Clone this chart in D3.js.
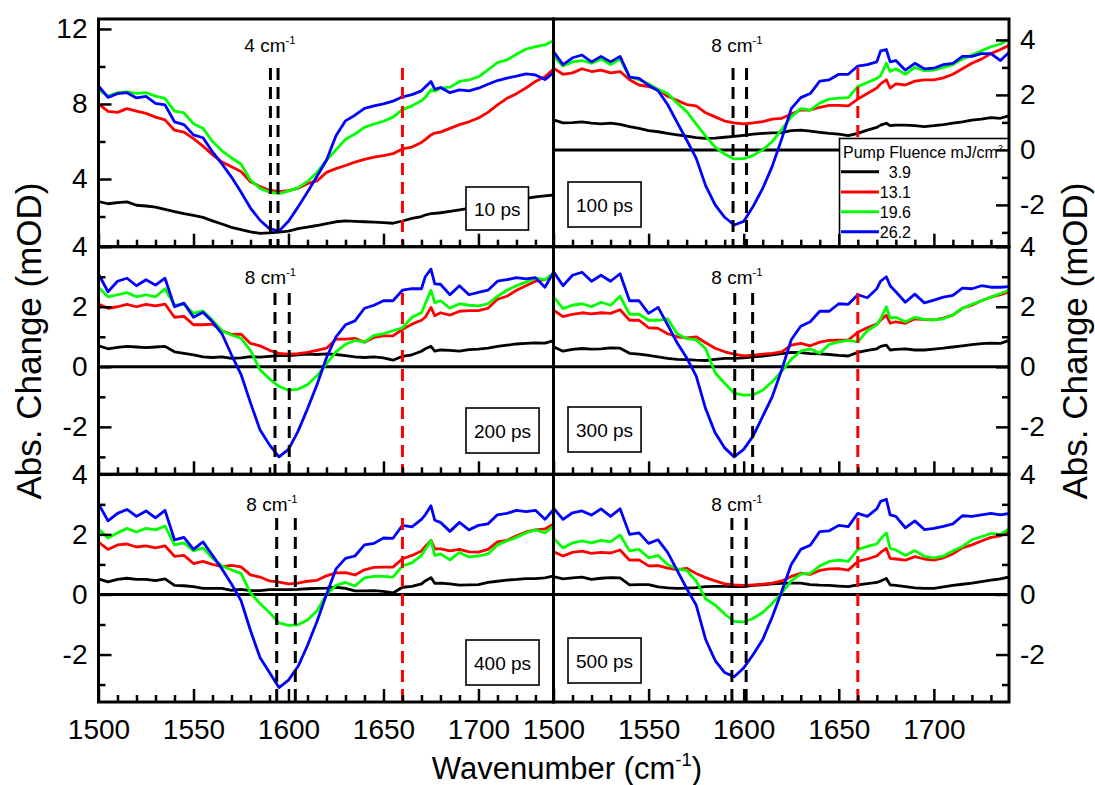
<!DOCTYPE html>
<html>
<head>
<meta charset="utf-8">
<script src="https://cdn.jsdelivr.net/npm/d3@7"></script>
<style>
  body { margin: 0; background: #fff; }
  svg { display: block; }
  text { font-family: "Liberation Sans", Arial, sans-serif; }
</style>
</head>
<body>
<svg id="chart" width="1095" height="785"></svg>
<script>
// ---- spectral axis (cm^-1) shared by every trace ----
const wavenumber = [1500,1505,1510,1515,1520,1525,1530,1535,1540,1545,1550,1555,1560,1565,1570,1575,1580,1585,1590,1595,
  1600,1605,1610,1615,1620,1625,1630,1635,1640,1645,1650,1655,1660,1665,1670,1672,1675,1677,1680,1685,1690,1695,
  1700,1705,1710,1715,1720,1725,1730,1735,1740];

const fluenceLabels = ["3.9", "13.1", "19.6", "26.2"];
const seriesColors = ["#000000", "#ff0000", "#00ff00", "#0000ff"];
const delayLabels = ["10 ps", "100 ps", "200 ps", "300 ps", "400 ps", "500 ps"];
const splitLabels = ["4", "8", "8", "8", "8", "8"];
const splitLines = [[1590.5, 1594.5], [1594.4, 1601.5], [1592.9, 1600.4], [1595.3, 1604.7], [1593.8, 1603.6], [1593.8, 1601.3]];
const markerLine = 1660;
const xMajorTicks = [1500, 1550, 1600, 1650, 1700];
const xMinorTicks = [1510,1520,1530,1540,1560,1570,1580,1590,1610,1620,1630,1640,1660,1670,1680,1690,1710,1720,1730];

// ---- 10 ps ----
const ps10_f39  = [2.8,2.68,2.74,2.78,2.6,2.56,2.5,2.38,2.26,2.15,2.06,1.95,1.77,1.6,1.42,1.3,1.18,1.1,1.13,1.17,
  1.22,1.35,1.44,1.52,1.62,1.72,1.77,1.74,1.72,1.7,1.67,1.64,1.76,1.9,2.0,2.08,2.15,2.17,2.2,2.27,2.35,2.43,
  2.55,2.65,2.72,2.8,2.88,2.97,3.05,3.1,3.15];
const ps10_f131 = [8.0,7.6,7.55,7.75,7.62,7.5,7.3,7.15,6.6,6.5,6.15,5.75,5.3,4.9,4.65,4.4,3.85,3.6,3.4,3.33,
  3.38,3.5,3.75,3.9,4.35,4.55,4.72,4.9,5.05,5.17,5.25,5.35,5.6,5.7,5.95,6.1,6.35,6.45,6.5,6.7,6.9,7.05,
  7.25,7.55,7.95,8.3,8.55,8.85,9.2,9.45,9.9];
const ps10_f196 = [8.75,8.42,8.6,8.65,8.57,8.6,8.42,8.3,7.62,7.52,6.95,6.7,6.0,5.5,5.12,4.8,3.95,3.5,3.3,3.22,
  3.35,3.53,3.87,4.35,5.0,5.55,6.12,6.4,6.75,6.93,7.08,7.3,7.7,7.9,8.17,8.35,8.75,8.68,8.85,8.9,9.2,9.28,
  9.45,9.82,10.2,10.35,10.65,10.92,11.06,11.15,11.4];
const ps10_f262 = [8.96,8.35,8.55,8.6,8.32,8.4,8.03,7.95,7.05,6.9,6.35,6.2,5.45,4.8,4.1,3.3,2.45,1.8,1.35,1.22,
  1.75,2.5,3.3,4.15,5.0,6.3,7.1,7.4,7.77,7.9,8.0,8.15,8.38,8.5,8.7,8.9,9.2,8.78,8.88,8.6,8.75,8.7,
  8.84,9.05,9.25,9.38,9.48,9.6,9.55,9.3,9.72];

// ---- 100 ps ----
const ps100_f39  = [1.09,0.98,0.99,1.02,0.97,0.95,0.97,0.93,0.85,0.78,0.7,0.66,0.6,0.55,0.5,0.45,0.42,0.43,0.46,0.49,
  0.53,0.57,0.6,0.62,0.63,0.7,0.72,0.68,0.64,0.6,0.57,0.52,0.6,0.72,0.82,0.9,0.97,0.88,0.9,0.9,0.88,0.85,
  0.88,0.92,0.97,1.02,1.08,1.12,1.17,1.15,1.25];
const ps100_f131 = [2.97,2.75,2.8,2.95,2.85,2.9,2.8,2.85,2.55,2.36,2.3,2.2,1.95,1.8,1.65,1.6,1.35,1.2,1.05,0.98,
  0.95,0.98,1.03,1.12,1.15,1.3,1.45,1.45,1.55,1.62,1.62,1.6,1.85,2.05,2.25,2.4,2.55,2.25,2.4,2.36,2.5,2.55,
  2.55,2.62,2.75,2.95,3.15,3.3,3.5,3.65,3.82];
const ps100_f196 = [3.4,3.05,3.2,3.25,3.15,3.3,3.1,3.3,2.65,2.55,2.4,2.2,2.05,1.7,1.4,0.95,0.5,0.1,-0.15,-0.33,
  -0.32,-0.2,0.0,0.3,0.75,1.2,1.5,1.45,1.7,1.85,1.88,1.9,2.3,2.45,2.6,2.7,3.15,2.85,2.95,2.75,3.0,2.88,
  2.9,3.0,3.1,3.3,3.45,3.6,3.75,3.85,4.05];
const ps100_f262 = [3.58,3.1,3.35,3.45,3.2,3.4,3.2,3.4,2.65,2.6,2.35,2.15,1.65,1.0,0.36,-0.3,-1.3,-2.0,-2.45,-2.73,
  -2.6,-2.05,-1.4,-0.6,0.4,1.5,1.9,2.05,2.5,2.55,2.75,2.75,3.05,3.1,3.2,3.6,3.65,3.2,3.25,2.9,3.15,2.95,
  2.97,3.1,3.15,3.4,3.4,3.5,3.5,3.25,3.58];

// ---- 200 ps ----
const ps200_f39  = [0.7,0.6,0.65,0.68,0.66,0.64,0.66,0.68,0.5,0.45,0.4,0.33,0.31,0.33,0.28,0.3,0.34,0.32,0.35,0.37,
  0.37,0.4,0.42,0.41,0.43,0.41,0.37,0.33,0.31,0.33,0.3,0.22,0.35,0.4,0.52,0.6,0.68,0.52,0.56,0.55,0.52,0.57,
  0.59,0.62,0.68,0.72,0.76,0.78,0.8,0.79,0.88];
const ps200_f131 = [2.09,1.95,2.0,2.08,2.0,2.08,2.03,2.09,1.65,1.68,1.4,1.4,1.42,1.2,1.08,1.09,0.78,0.7,0.55,0.45,
  0.42,0.44,0.48,0.55,0.62,0.92,0.92,0.95,0.82,0.98,1.03,1.03,1.25,1.42,1.55,1.65,1.98,1.7,1.8,1.72,1.85,1.87,
  1.87,1.95,2.25,2.35,2.55,2.7,2.85,2.9,3.09];
const ps200_f196 = [2.64,2.33,2.4,2.47,2.33,2.4,2.33,2.6,2.05,2.08,1.78,1.86,1.55,1.2,1.06,0.95,0.55,-0.1,-0.4,-0.65,
  -0.78,-0.75,-0.6,-0.3,0.1,0.5,0.75,0.88,0.82,1.05,1.1,1.2,1.3,1.65,1.8,2.1,2.55,2.14,2.2,1.95,2.1,2.05,
  2.03,2.1,2.35,2.55,2.7,2.82,2.95,2.9,3.14];
const ps200_f262 = [3.09,2.5,2.85,2.95,2.7,2.9,2.72,2.95,2.0,2.12,1.65,1.82,1.5,1.1,0.4,-0.25,-1.2,-2.1,-2.6,-3.0,
  -2.75,-2.15,-1.4,-0.6,0.3,1.0,1.4,1.53,1.95,2.05,2.2,2.2,2.55,2.6,2.6,3.0,3.25,2.76,2.75,2.4,2.7,2.4,
  2.48,2.55,2.85,2.9,2.97,2.93,2.97,2.65,3.2];

// ---- 300 ps ----
const ps300_f39  = [0.67,0.52,0.58,0.61,0.59,0.6,0.63,0.62,0.45,0.42,0.38,0.33,0.28,0.25,0.24,0.22,0.21,0.25,0.28,0.28,
  0.3,0.33,0.36,0.4,0.44,0.48,0.47,0.44,0.43,0.41,0.38,0.36,0.48,0.55,0.6,0.68,0.72,0.56,0.58,0.6,0.56,0.56,
  0.59,0.62,0.66,0.7,0.74,0.77,0.79,0.78,0.89];
const ps300_f131 = [1.89,1.67,1.75,1.8,1.76,1.8,1.78,1.9,1.55,1.55,1.3,1.28,1.1,1.0,0.96,1.0,0.8,0.62,0.5,0.42,
  0.36,0.39,0.42,0.45,0.5,0.72,0.78,0.7,0.82,0.88,0.89,0.89,1.15,1.3,1.42,1.55,1.72,1.45,1.5,1.45,1.6,1.57,
  1.56,1.62,1.72,1.95,2.05,2.2,2.32,2.4,2.5];
const ps300_f196 = [2.33,1.94,2.05,2.1,2.0,2.15,2.05,2.35,1.75,1.75,1.55,1.55,1.6,1.1,0.94,0.9,0.6,-0.2,-0.55,-0.88,
  -0.94,-0.93,-0.78,-0.5,-0.15,0.25,0.52,0.6,0.45,0.75,0.83,0.88,0.83,1.2,1.4,1.6,2.0,1.62,1.65,1.5,1.65,1.58,
  1.56,1.6,1.72,1.95,2.08,2.2,2.32,2.44,2.56];
const ps300_f262 = [3.17,2.7,3.05,3.15,2.85,3.05,2.85,3.1,2.2,2.2,1.78,1.98,1.4,0.8,0.3,-0.3,-1.4,-2.2,-2.7,-3.0,
  -2.75,-2.3,-1.65,-1.0,-0.1,0.9,1.35,1.5,1.85,1.85,2.1,2.08,2.4,2.3,2.6,2.85,3.0,2.7,2.5,2.15,2.42,2.13,
  2.22,2.32,2.38,2.62,2.6,2.7,2.65,2.65,2.67];

// ---- 400 ps ----
const ps400_f39  = [0.52,0.42,0.5,0.54,0.5,0.5,0.46,0.52,0.3,0.29,0.26,0.2,0.2,0.2,0.14,0.17,0.13,0.13,0.16,0.16,
  0.16,0.17,0.19,0.2,0.21,0.24,0.2,0.12,0.12,0.13,0.1,0.05,0.24,0.27,0.35,0.45,0.56,0.37,0.38,0.35,0.31,0.32,
  0.33,0.4,0.44,0.48,0.5,0.53,0.53,0.55,0.62];
const ps400_f131 = [1.74,1.5,1.65,1.68,1.58,1.62,1.55,1.62,1.27,1.3,1.03,1.1,1.0,0.93,0.97,0.92,0.65,0.58,0.45,0.41,
  0.35,0.38,0.44,0.47,0.62,0.72,0.73,0.65,0.82,0.9,0.91,0.91,1.19,1.3,1.45,1.6,1.8,1.52,1.52,1.45,1.5,1.42,
  1.41,1.5,1.75,1.8,1.95,2.08,2.15,2.18,2.36];
const ps400_f196 = [2.19,1.88,2.05,2.2,2.08,2.2,2.15,2.28,1.65,1.72,1.45,1.55,1.2,0.95,0.82,0.7,0.05,-0.3,-0.6,-0.95,
  -1.03,-1.01,-0.85,-0.55,0.0,0.3,0.4,0.28,0.55,0.6,0.6,0.58,0.95,1.05,1.3,1.5,1.8,1.3,1.35,1.15,1.4,1.25,
  1.28,1.35,1.65,1.78,1.9,2.05,2.15,2.05,2.3];
const ps400_f262 = [3.02,2.45,2.7,2.83,2.6,2.78,2.55,2.8,1.82,1.9,1.5,1.75,1.3,0.85,0.35,-0.2,-1.2,-2.1,-2.6,-3.1,
  -2.85,-2.4,-1.7,-0.9,0.0,0.85,1.2,1.28,1.65,1.7,1.88,1.87,2.3,2.25,2.5,2.65,2.95,2.47,2.4,2.1,2.4,2.15,
  2.3,2.35,2.65,2.7,2.8,2.76,2.8,2.5,2.86];

// ---- 500 ps ----
const ps500_f39  = [0.59,0.52,0.55,0.58,0.5,0.54,0.56,0.55,0.32,0.33,0.33,0.25,0.22,0.2,0.21,0.23,0.26,0.27,0.27,0.26,
  0.26,0.3,0.32,0.35,0.37,0.38,0.38,0.33,0.31,0.3,0.28,0.26,0.32,0.36,0.4,0.45,0.53,0.32,0.3,0.26,0.22,0.2,
  0.2,0.25,0.3,0.34,0.38,0.43,0.48,0.52,0.59];
const ps500_f131 = [1.42,1.28,1.4,1.44,1.37,1.4,1.38,1.48,1.14,1.15,0.95,0.96,0.88,0.83,0.87,0.7,0.56,0.45,0.35,0.32,
  0.3,0.32,0.34,0.38,0.45,0.6,0.7,0.67,0.8,0.85,0.86,0.81,1.1,1.18,1.28,1.4,1.53,1.2,1.18,1.14,1.26,1.18,
  1.14,1.22,1.35,1.55,1.65,1.78,1.9,1.95,2.14];
const ps500_f196 = [1.87,1.55,1.72,1.78,1.72,1.8,1.75,1.98,1.45,1.5,1.22,1.3,1.0,0.85,0.8,0.45,-0.15,-0.35,-0.65,-0.9,
  -0.91,-0.8,-0.6,-0.3,0.05,0.45,0.68,0.7,0.95,1.1,1.14,1.1,1.5,1.6,1.68,1.85,2.05,1.53,1.48,1.3,1.46,1.27,
  1.22,1.28,1.45,1.6,1.82,1.92,2.03,2.0,2.2];
const ps500_f262 = [2.87,2.5,2.72,2.78,2.64,2.85,2.6,2.85,2.0,2.05,1.7,1.82,1.4,0.8,0.2,-0.35,-1.5,-2.2,-2.6,-2.74,
  -2.45,-2.0,-1.5,-0.75,0.1,1.0,1.5,1.64,2.09,2.12,2.3,2.26,2.7,2.6,2.85,3.1,3.17,2.65,2.6,2.22,2.45,2.16,
  2.2,2.27,2.35,2.62,2.6,2.65,2.7,2.65,2.7];

// ---- layout ----
const colX = [[98.5, 553.5], [553.5, 1009]];
const rowY = [[19, 246.7], [246.7, 474.3], [474.3, 702]];
const xDomain = [1500, 1739.5];
const diffYMajor = [-2, 0, 2, 4];
const diffYMinor = [-3, -1, 1, 3];

const panels = [
  { col: 0, row: 0, yDomain: [0.39, 12.53], yMajor: [4, 8, 12], yMinor: [2, 6, 10], zero: false,
    dashTop: 68, labelX: 270, labelY: 52, box: [466, 187, 43], traces: [ps10_f39, ps10_f131, ps10_f196, ps10_f262] },
  { col: 1, row: 0, yDomain: [-3.52, 4.76], yMajor: diffYMajor, yMinor: diffYMinor, zero: true,
    dashTop: 68, labelX: 737, labelY: 52, box: [568, 182, 45], traces: [ps100_f39, ps100_f131, ps100_f196, ps100_f262] },
  { col: 0, row: 1, yDomain: [-3.58, 4.0], yMajor: diffYMajor, yMinor: diffYMinor, zero: true,
    dashTop: 293, labelX: 270.5, labelY: 283.5, box: [466, 408, 45], traces: [ps200_f39, ps200_f131, ps200_f196, ps200_f262] },
  { col: 1, row: 1, yDomain: [-3.58, 4.0], yMajor: diffYMajor, yMinor: diffYMinor, zero: true,
    dashTop: 293, labelX: 737, labelY: 283.5, box: [568, 407, 45], traces: [ps300_f39, ps300_f131, ps300_f196, ps300_f262] },
  { col: 0, row: 2, yDomain: [-3.58, 4.0], yMajor: diffYMajor, yMinor: diffYMinor, zero: true,
    dashTop: 518, labelX: 272, labelY: 510.7, box: [466, 640, 45], traces: [ps400_f39, ps400_f131, ps400_f196, ps400_f262] },
  { col: 1, row: 2, yDomain: [-3.58, 4.0], yMajor: diffYMajor, yMinor: diffYMinor, zero: true,
    dashTop: 518, labelX: 737, labelY: 510.7, box: [568, 638, 45], traces: [ps500_f39, ps500_f131, ps500_f196, ps500_f262] }
];

const svg = d3.select("#chart");
const FONT = "'Liberation Sans', Arial, sans-serif";
const contentLayer = svg.append("g");
const legendLayer = svg.append("g");
const frameLayer = svg.append("g");
const textLayer = svg.append("g");

// text with a superscript part
function supText(sel, main, sup, size, after) {
  sel.append("tspan").text(main);
  sel.append("tspan").attr("font-size", size * 0.6).attr("dy", -size * 0.42).text(sup);
  if (after) sel.append("tspan").attr("dy", size * 0.42).text(after);
  return sel;
}

panels.forEach((p, i) => {
  const [x0, x1] = colX[p.col];
  const [y0, y1] = rowY[p.row];
  const x = d3.scaleLinear().domain(xDomain).range([x0, x1]);
  const y = d3.scaleLinear().domain(p.yDomain).range([y1, y0]);

  const clipId = "clip" + i;
  svg.append("clipPath").attr("id", clipId)
    .append("rect").attr("x", x0).attr("y", y0).attr("width", x1 - x0).attr("height", y1 - y0);

  const g = contentLayer.append("g").attr("clip-path", `url(#${clipId})`);

  if (p.zero) {
    g.append("line").attr("x1", x0).attr("x2", x1).attr("y1", y(0)).attr("y2", y(0))
      .attr("stroke", "#000").attr("stroke-width", 3);
  }

  const line = d3.line().x((d, k) => x(wavenumber[k])).y(d => y(d));
  p.traces.forEach((tr, k) => {
    g.append("path").datum(tr).attr("d", line)
      .attr("fill", "none").attr("stroke", seriesColors[k])
      .attr("stroke-width", 2.8).attr("stroke-linejoin", "round");
  });

  // split markers and the 1660 cm-1 reference
  splitLines[i].forEach(w => {
    g.append("line").attr("x1", x(w)).attr("x2", x(w)).attr("y1", p.dashTop).attr("y2", y1)
      .attr("stroke", "#000").attr("stroke-width", 3).attr("stroke-dasharray", "12,7");
  });
  g.append("line").attr("x1", x(markerLine)).attr("x2", x(markerLine)).attr("y1", p.dashTop).attr("y2", y1)
    .attr("stroke", "#ff0000").attr("stroke-width", 3).attr("stroke-dasharray", "12,7");

  // splitting annotation
  supText(g.append("text").attr("x", p.labelX).attr("y", p.labelY).attr("text-anchor", "middle")
    .attr("font-size", 19).attr("font-family", FONT), splitLabels[i] + " cm", "-1", 19);

  // delay label in a box
  const [bx, by, bh] = p.box;
  const bg = g.append("g");
  const rect = bg.append("rect").attr("x", bx).attr("y", by).attr("height", bh)
    .attr("fill", "#fff").attr("stroke", "#000").attr("stroke-width", 1.6);
  const t = bg.append("text").attr("x", bx + 8).attr("y", by + bh / 2 + 7)
    .attr("font-size", 19).attr("font-family", FONT).text(delayLabels[i]);
  rect.attr("width", t.node().getComputedTextLength() + 16);

  // frame
  frameLayer.append("rect").attr("x", x0).attr("y", y0).attr("width", x1 - x0).attr("height", y1 - y0)
    .attr("fill", "none").attr("stroke", "#000").attr("stroke-width", 3);

  const styleAxis = (ax, sw) => {
    ax.select(".domain").remove();
    ax.selectAll("line").attr("stroke-width", sw);
    ax.attr("font-size", 28).attr("font-family", FONT);
    ax.selectAll("text").attr("fill", "#000");
  };

  // x ticks (inward)
  const bottomRow = p.row === 2;
  const xa = frameLayer.append("g").attr("transform", `translate(0,${y1})`)
    .call(d3.axisBottom(x).tickValues(xMajorTicks).tickSize(-13).tickPadding(17)
      .tickFormat(bottomRow ? d3.format("d") : () => ""));
  styleAxis(xa, 2.5);
  const xm = frameLayer.append("g").attr("transform", `translate(0,${y1})`)
    .call(d3.axisBottom(x).tickValues(xMinorTicks).tickSize(-7).tickFormat(() => ""));
  styleAxis(xm, 2.5);

  // y ticks (inward), labels outside
  const left = p.col === 0;
  const axisFn = left ? d3.axisLeft : d3.axisRight;
  const ya = frameLayer.append("g").attr("transform", `translate(${left ? x0 : x1},0)`)
    .call(axisFn(y).tickValues(p.yMajor).tickSize(-13).tickPadding(11).tickFormat(d => String(d)));
  styleAxis(ya, 2.5);
  const ym = frameLayer.append("g").attr("transform", `translate(${left ? x0 : x1},0)`)
    .call(axisFn(y).tickValues(p.yMinor).tickSize(-7).tickFormat(() => ""));
  styleAxis(ym, 2.5);
});

// ---- legend ----
const lg = legendLayer.append("g");
lg.append("rect").attr("x", 839.5).attr("y", 138.5).attr("width", 1009 - 839.5).attr("height", 246.7 - 138.5)
  .attr("fill", "#fff").attr("stroke", "#000").attr("stroke-width", 1.6);
supText(lg.append("text").attr("x", 843).attr("y", 157.5).attr("font-size", 16).attr("font-family", FONT),
  "Pump Fluence mJ/cm", "2", 16);
const legendRows = [171.7, 192, 211.7, 231.7];
fluenceLabels.forEach((lab, k) => {
  lg.append("line").attr("x1", 841).attr("x2", 879).attr("y1", legendRows[k]).attr("y2", legendRows[k])
    .attr("stroke", seriesColors[k]).attr("stroke-width", 3);
  lg.append("text").attr("x", 911).attr("y", legendRows[k] + 6).attr("text-anchor", "end")
    .attr("font-size", 16).attr("font-family", FONT).text(lab);
});

// ---- axis titles ----
supText(textLayer.append("text").attr("x", 567).attr("y", 779).attr("text-anchor", "middle")
  .attr("font-size", 31).attr("font-family", FONT), "Wavenumber (cm", "-1", 31, ")");
textLayer.append("text").attr("transform", "translate(41,341) rotate(-90)").attr("text-anchor", "middle")
  .attr("font-size", 35).attr("font-family", FONT).text("Abs. Change (mOD)");
textLayer.append("text").attr("transform", "translate(1087,341) rotate(-90)").attr("text-anchor", "middle")
  .attr("font-size", 35).attr("font-family", FONT).text("Abs. Change (mOD)");
</script>
</body>
</html>
